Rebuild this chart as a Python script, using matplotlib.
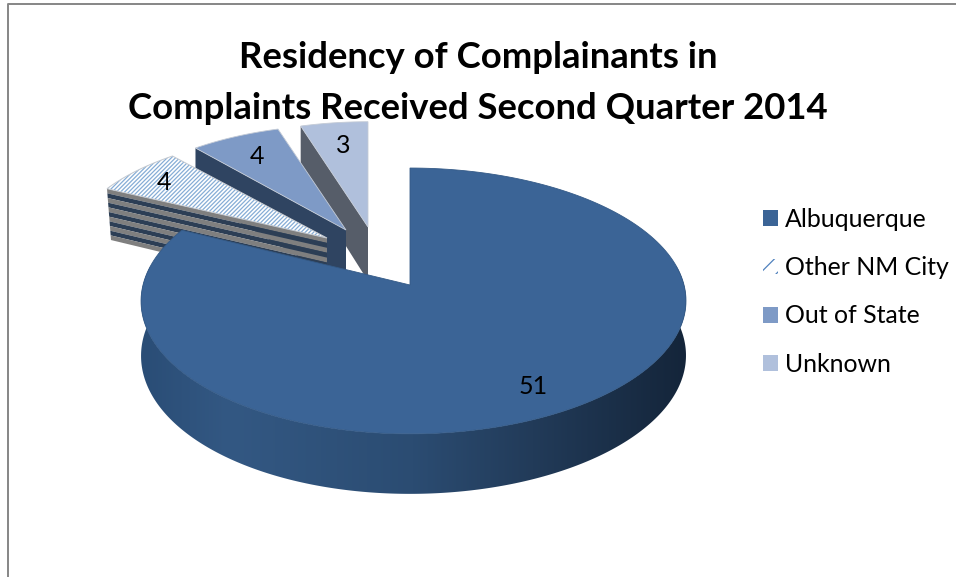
import numpy as np
import matplotlib
matplotlib.use('Agg')
import matplotlib.pyplot as plt
from matplotlib.patches import Patch, Polygon
from matplotlib.colors import LinearSegmentedColormap

plt.rcParams['font.family'] = ['Lato', 'DejaVu Sans']
plt.rcParams['hatch.linewidth'] = 0.9

title = 'Residency of Complainants in\nComplaints Received Second Quarter 2014'
categories = ['Albuquerque', 'Other NM City', 'Out of State', 'Unknown']
values = [51, 4, 4, 3]

# where each slice's tip ends up, the chart is "exploded"
apex = [(410, 285), (327, 238), (346, 230), (368, 227)]
scale = [(1.0, 1.0), (0.965, 0.9), (0.94, 0.9), (0.93, 0.9)]
label_r = [0.82, 0.82, 0.74, 0.72]
label_shift = [(-6, 2), (-5, 0), (-5, -3), (0, -4)]
top_colors = ['#3b6496', '#ffffff', '#7e9ac6', '#b0c0dc']
side_colors = ['#2c4f77', '#7f7f7f', '#2f4461', '#565d69']

RX, RY, K = 270.5, 131.0, 0.12


def project(theta, r, i):
    # theta clockwise from the top, small perspective so the front looks bigger
    u = r * np.sin(theta)
    v = r * np.cos(theta)
    w = 1 + K * v
    x = apex[i][0] + scale[i][0] * RX * u / w * (1 + 0.013 * u)
    y = apex[i][1] - scale[i][1] * RY * v / w
    return x, y


def depth(theta, r):
    return 54 - 6 * r * np.cos(theta)


def surface(t0, t1, i):
    t = np.linspace(t0, t1, 200)
    x, y = project(t, 1.0, i)
    ax0, ay0 = apex[i]
    return np.column_stack([np.r_[ax0, x], np.r_[ay0, y]])


def radial_face(theta, i):
    # the flat cut below a slice's left edge
    x0, y0 = project(theta, 1.0, i)
    ax0, ay0 = apex[i]
    return x0, y0, ax0, ay0, depth(theta, 1.0), depth(0, 0)


fig = plt.figure(figsize=(9.56, 5.77), dpi=100)
ax = fig.add_axes([0, 0, 1, 1])

fractions = np.array(values) / sum(values) * 2 * np.pi
ends = np.cumsum(fractions)
starts = ends - fractions

# back slices first, Unknown is the furthest one
for i in [3, 2, 1]:
    x0, y0, ax0, ay0, d0, d1 = radial_face(starts[i], i)
    if i == 1:
        bands = 11
        for b in range(bands):
            f0, f1 = b / bands, (b + 1) / bands
            col = '#7f7f7f' if b % 2 == 0 else '#2c3e55'
            ax.add_patch(Polygon([(x0 + 4 * f0, y0 + f0 * d0), (ax0, ay0 + f0 * d1),
                                  (ax0, ay0 + f1 * d1), (x0 + 4 * f1, y0 + f1 * d0)],
                                 fc=col, ec='none', zorder=2 + 3 - i))
    else:
        ax.add_patch(Polygon([(x0, y0), (ax0, ay0), (ax0, ay0 + d1), (x0, y0 + d0)],
                             fc=side_colors[i], ec='none', zorder=2 + 3 - i))
    pts = surface(starts[i], ends[i], i)
    if i == 1:
        ax.add_patch(Polygon(pts, fc='white', ec='#86add6', hatch='////////', lw=0, zorder=2.5 + 3 - i))
        ax.add_patch(Polygon(pts, fc='none', ec='#c4c9d0', lw=0.7, zorder=2.6 + 3 - i))
    else:
        ax.add_patch(Polygon(pts, fc=top_colors[i], ec='#c4cbd6', lw=0.6, zorder=2.5 + 3 - i))

# rim of the big slice with the light falling off to the right
t = np.linspace(np.pi / 2 - 0.15, 3 * np.pi / 2 + 0.15, 300)
xr, yr = project(t, 1.0, 0)
dr = depth(t, 1.0)
rim = Polygon(np.column_stack([np.r_[xr, xr[::-1]], np.r_[yr, (yr + dr)[::-1]]]),
              fc='none', ec='none', zorder=6)
ax.add_patch(rim)
cmap = LinearSegmentedColormap.from_list('rim', [(0, '#2a4d76'), (0.16, '#335883'), (0.5, '#2b4c72'),
                                                 (0.72, '#223b59'), (1, '#14253a')])
im = ax.imshow(np.linspace(0, 1, 256).reshape(1, -1), extent=(141, 686, 577, 0), cmap=cmap,
               aspect='auto', zorder=6)
im.set_clip_path(rim)

ax.add_patch(Polygon(surface(starts[0], ends[0], 0), fc=top_colors[0], ec='#345a87', lw=0.6, zorder=7))

for i, val in enumerate(values):
    mid = (starts[i] + ends[i]) / 2
    lx, ly = project(mid, label_r[i], i)
    ax.text(lx + label_shift[i][0], ly + label_shift[i][1], str(val), fontsize=18, color='black',
            ha='center', va='center', zorder=10)

# chart frame, cut by the page
ax.plot([8, 8, 956], [577, 3.5, 3.5], color='#868686', lw=1.4, zorder=1)

ax.text(478, 83, title, fontsize=26.3, fontweight='bold', ha='center', va='center',
        linespacing=1.69, zorder=11)

handles = [Patch(fc=top_colors[0], ec='none'),
           Patch(fc='white', ec='#4f81bd', hatch='//', lw=0),
           Patch(fc=top_colors[2], ec='none'),
           Patch(fc=top_colors[3], ec='none')]
ax.legend(handles, categories, loc='upper left', bbox_to_anchor=(763, 208), bbox_transform=ax.transData,
          frameon=False, fontsize=17.9, handlelength=0.6, handleheight=0.6, handletextpad=0.28,
          labelspacing=1.015, borderpad=0, borderaxespad=0)

ax.set_xlim(0, 956)
ax.set_ylim(577, 0)
ax.axis('off')

fig.savefig('out.png', dpi=100)
